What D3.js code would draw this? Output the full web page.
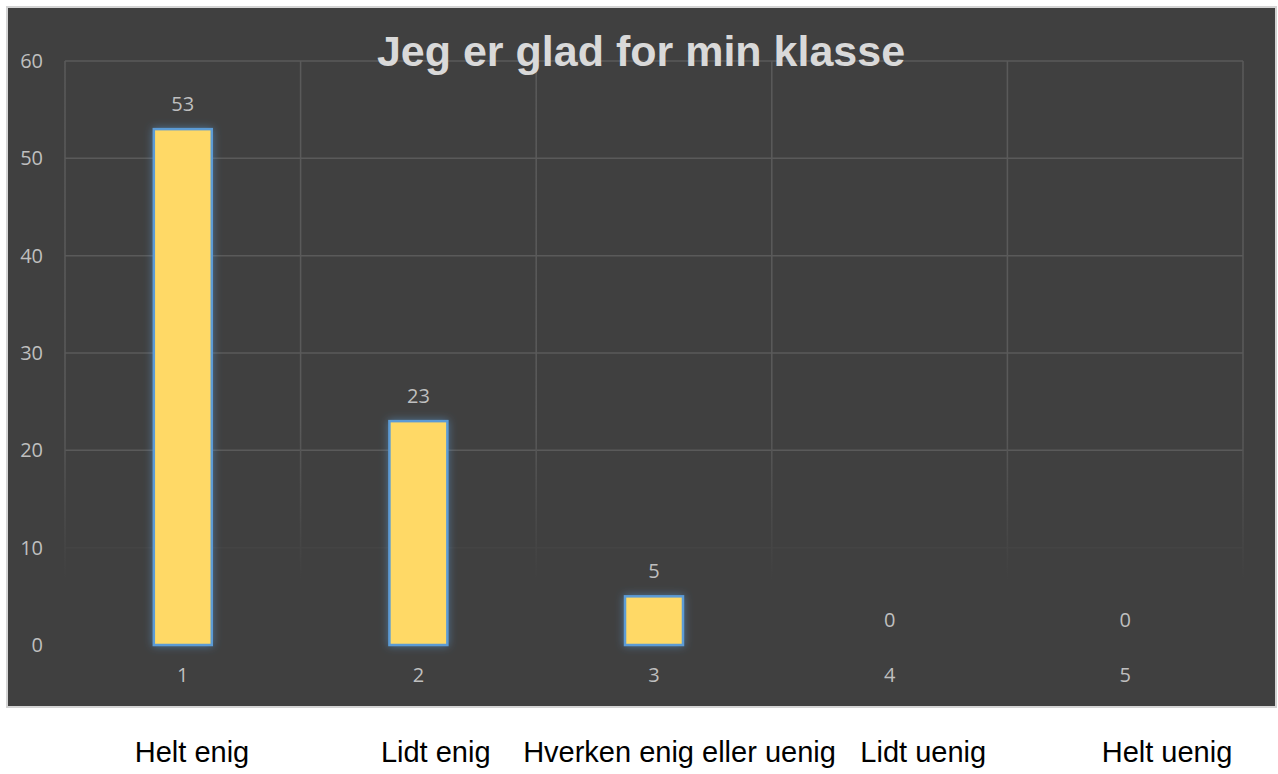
<!DOCTYPE html>
<html>
<head>
<meta charset="utf-8">
<script src="https://cdn.jsdelivr.net/npm/d3@7"></script>
<style>
  body { margin: 0; background: #fff; }
</style>
</head>
<body>
<svg id="chart" width="1278" height="774"></svg>
<script>
// data
const categories = ['1', '2', '3', '4', '5'];
const counts = [53, 23, 5, 0, 0];
const answerLabels = ['Helt enig', 'Lidt enig', 'Hverken enig eller uenig', 'Lidt uenig', 'Helt uenig'];
const yTicks = [0, 10, 20, 30, 40, 50, 60];
const chartTitle = 'Jeg er glad for min klasse';

const svg = d3.select('#chart');

// panel
svg.append('rect')
  .attr('x', 7).attr('y', 7)
  .attr('width', 1269).attr('height', 700)
  .attr('fill', '#404040')
  .attr('stroke', '#d4d4d4')
  .attr('stroke-width', 2);

const plotLeft = 65, plotRight = 1243, plotTop = 61, plotBottom = 645;

const x = d3.scaleBand()
  .domain(categories)
  .range([plotLeft, plotRight])
  .paddingInner(0.754)
  .paddingOuter(0.377);

const y = d3.scaleLinear().domain([0, 60]).range([plotBottom, plotTop]);

const defs = svg.append('defs');
const glow = defs.append('filter').attr('id', 'glow')
  .attr('x', '-50%').attr('y', '-50%').attr('width', '200%').attr('height', '200%');
glow.append('feGaussianBlur').attr('in', 'SourceAlpha').attr('stdDeviation', 4).attr('result', 'blur');
glow.append('feFlood').attr('flood-color', '#5b9bd5').attr('flood-opacity', 0.55);
glow.append('feComposite').attr('in2', 'blur').attr('operator', 'in').attr('result', 'g');
const merge = glow.append('feMerge');
merge.append('feMergeNode').attr('in', 'g');
merge.append('feMergeNode').attr('in', 'SourceGraphic');

const gridEnd = y(10) + 32;
const fade = defs.append('linearGradient').attr('id', 'fade')
  .attr('gradientUnits', 'userSpaceOnUse')
  .attr('x1', 0).attr('x2', 0).attr('y1', plotTop).attr('y2', gridEnd);
fade.append('stop').attr('offset', '0.7').attr('stop-color', '#5a5a5a');
fade.append('stop').attr('offset', '1').attr('stop-color', '#404040');

// gridlines
const grid = svg.append('g');
grid.selectAll('line.h')
  .data(yTicks.filter(d => d > 0))
  .enter().append('line')
  .attr('class', 'h')
  .attr('x1', plotLeft).attr('x2', plotRight)
  .attr('y1', d => y(d)).attr('y2', d => y(d))
  .attr('stroke', d => d === 10 ? '#444444' : '#5a5a5a')
  .attr('stroke-width', 1.5);

const vEdges = categories.map(c => x(c) - x.step() * x.paddingInner() / 2).concat([plotRight]);
grid.selectAll('line.v')
  .data(vEdges)
  .enter().append('line')
  .attr('class', 'v')
  .attr('x1', d => d).attr('x2', d => d)
  .attr('y1', plotTop).attr('y2', gridEnd)
  .attr('stroke', 'url(#fade)')
  .attr('stroke-width', 1.5);

const labelFont = '20px "Open Sans", sans-serif';

// y axis labels
svg.append('g').selectAll('text')
  .data(yTicks)
  .enter().append('text')
  .attr('x', 43)
  .attr('y', d => y(d))
  .attr('dy', '0.35em')
  .attr('text-anchor', 'end')
  .attr('fill', '#bfbfbf')
  .style('font', labelFont)
  .text(d => d);

// category labels
svg.append('g').selectAll('text')
  .data(categories)
  .enter().append('text')
  .attr('x', d => x(d) + x.bandwidth() / 2)
  .attr('y', 682)
  .attr('text-anchor', 'middle')
  .attr('fill', '#bfbfbf')
  .style('font', labelFont)
  .text(d => d);

// title
svg.append('text')
  .attr('x', 641).attr('y', 66)
  .attr('text-anchor', 'middle')
  .attr('fill', '#d9d9d9')
  .style('font', 'bold 43px "Liberation Sans", Arial, sans-serif')
  .text(chartTitle);

// bars
svg.append('g').selectAll('rect')
  .data(counts.map((v, i) => ({ c: categories[i], v })).filter(d => d.v > 0))
  .enter().append('rect')
  .attr('x', d => x(d.c))
  .attr('y', d => y(d.v))
  .attr('width', x.bandwidth())
  .attr('height', d => y(0) - y(d.v))
  .attr('fill', '#ffd966')
  .attr('stroke', '#5b9bd5')
  .attr('stroke-width', 2.5)
  .attr('filter', 'url(#glow)');

// data labels
svg.append('g').selectAll('text')
  .data(counts)
  .enter().append('text')
  .attr('x', (d, i) => x(categories[i]) + x.bandwidth() / 2)
  .attr('y', d => y(d) - 18)
  .attr('text-anchor', 'middle')
  .attr('fill', '#bfbfbf')
  .style('font', labelFont)
  .text(d => d);

// answer labels below the chart
const ax = d3.scalePoint().domain(answerLabels).range([192, 1167]);
svg.append('g').selectAll('text')
  .data(answerLabels)
  .enter().append('text')
  .attr('x', d => ax(d))
  .attr('y', 762)
  .attr('text-anchor', 'middle')
  .attr('fill', '#000')
  .style('font', '29px "Liberation Sans", Arial, sans-serif')
  .text(d => d);
</script>
</body>
</html>
